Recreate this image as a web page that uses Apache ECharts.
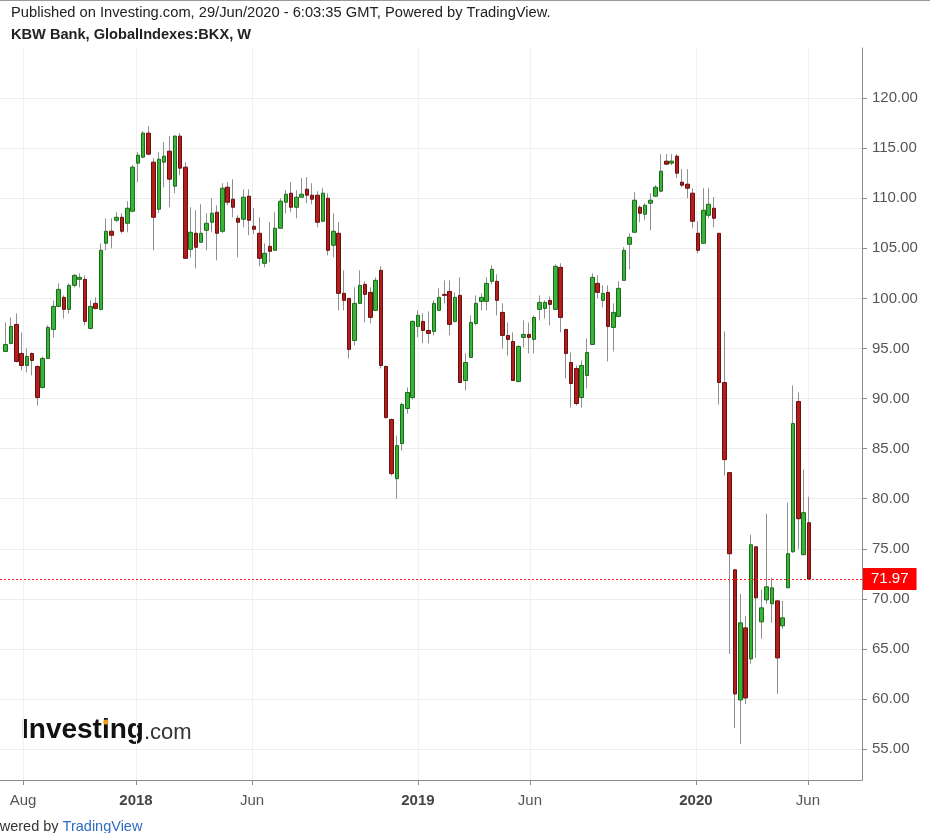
<!DOCTYPE html>
<html>
<head>
<meta charset="UTF-8">
<title>KBW Bank, GlobalIndexes:BKX, W</title>
<script src="https://cdn.jsdelivr.net/npm/echarts@6.0.0/dist/echarts.min.js"></script>
<style>
    html, body { margin: 0; padding: 0; background: #fff; }
    #main { width: 930px; height: 833px; }
</style>
</head>
<body>
<div id="main"></div>
<script type="text/javascript">
// weekly candles [open, close, low, high], Jul 2017 .. Jun 2020
var candles = [
    [94.7, 95.4, 94.7, 97.6], [95.5, 97.2, 95.4, 98.1], [97.4, 93.7, 93.6, 98.5], [94.5, 93.3, 92.8, 96.6],
    [93.3, 94.2, 92.6, 95.0], [94.5, 93.8, 92.3, 94.6], [93.2, 90.1, 89.3, 93.3], [91.1, 94.0, 91.0, 94.2],
    [94.0, 97.1, 94.0, 97.3], [96.9, 99.2, 96.1, 99.8], [99.2, 100.9, 99.1, 101.5], [100.1, 98.9, 98.0, 100.3],
    [98.9, 101.3, 98.5, 101.5], [101.3, 102.3, 101.1, 102.4], [101.9, 102.1, 101.1, 102.5], [101.9, 97.7, 97.3, 102.3],
    [97.0, 99.2, 96.9, 99.8], [99.5, 99.0, 98.9, 100.1], [98.9, 104.8, 98.8, 105.5], [105.5, 106.7, 104.8, 108.0],
    [106.7, 106.3, 105.0, 108.0], [107.8, 108.1, 107.6, 108.6], [108.1, 106.7, 106.5, 108.5], [107.5, 109.0, 106.6, 109.7],
    [108.7, 113.1, 108.6, 113.3], [113.5, 114.3, 111.6, 114.6], [114.1, 116.5, 114.0, 116.7], [116.5, 114.4, 114.3, 117.2],
    [113.6, 108.1, 104.8, 114.0], [108.9, 113.9, 108.5, 114.6], [113.6, 114.2, 111.1, 115.6], [114.7, 111.9, 109.1, 116.2],
    [111.2, 116.2, 110.5, 116.3], [116.2, 113.0, 112.3, 116.5], [113.1, 104.0, 104.0, 113.6], [104.9, 106.6, 104.1, 109.1],
    [106.5, 105.1, 103.0, 108.8], [105.6, 106.5, 105.6, 109.4], [106.8, 107.5, 104.8, 108.5], [107.6, 108.5, 106.6, 110.0],
    [108.6, 106.5, 103.8, 109.3], [106.7, 111.0, 106.5, 111.5], [111.1, 109.6, 109.3, 111.6], [109.9, 109.1, 108.1, 111.9],
    [108.0, 107.6, 104.1, 108.3], [107.9, 110.1, 107.1, 110.9], [110.2, 107.8, 106.3, 110.9], [107.2, 106.9, 106.4, 109.0],
    [106.5, 104.0, 103.2, 108.1], [103.5, 104.5, 103.1, 105.5], [105.2, 104.7, 103.6, 107.6], [104.8, 107.0, 104.8, 108.6],
    [107.0, 109.7, 107.0, 110.0], [109.6, 110.4, 108.5, 110.8], [110.5, 109.1, 108.6, 111.6], [109.1, 110.1, 108.0, 110.8],
    [110.1, 110.4, 110.1, 112.0], [110.9, 110.3, 109.5, 112.1], [110.3, 109.9, 109.4, 111.5], [110.3, 107.6, 107.1, 110.7],
    [107.7, 110.5, 107.6, 111.0], [110.0, 104.8, 104.3, 110.5], [105.3, 106.7, 104.1, 108.5], [106.5, 100.5, 98.8, 107.6],
    [100.5, 99.8, 98.8, 102.8], [100.0, 94.9, 94.0, 100.0], [95.8, 99.5, 95.3, 101.1], [99.5, 101.3, 99.5, 102.8],
    [101.4, 100.4, 97.6, 101.7], [100.6, 98.1, 97.5, 101.1], [98.8, 101.8, 98.8, 102.1], [102.8, 93.3, 93.0, 103.2],
    [93.2, 88.1, 88.0, 93.3], [87.9, 82.5, 82.3, 88.0], [82.0, 85.3, 80.0, 86.3], [85.5, 89.4, 84.8, 89.6],
    [89.0, 90.6, 88.5, 91.1], [90.1, 97.7, 89.9, 97.8], [97.2, 98.3, 96.1, 98.8], [97.7, 96.8, 95.5, 98.5],
    [96.8, 96.5, 95.5, 98.7], [96.7, 99.5, 96.3, 99.8], [98.8, 100.1, 98.8, 101.0], [100.4, 100.3, 99.5, 101.8],
    [100.7, 97.4, 96.3, 101.8], [97.7, 100.1, 97.6, 100.6], [100.3, 91.6, 91.6, 102.1], [91.8, 93.6, 90.8, 94.5],
    [94.1, 97.6, 94.1, 98.3], [97.5, 99.5, 97.3, 100.3], [99.7, 100.1, 98.8, 100.5], [99.7, 101.5, 98.8, 102.1],
    [101.7, 102.9, 101.4, 103.3], [101.7, 99.8, 98.3, 102.4], [98.6, 96.3, 95.0, 99.5], [96.3, 95.9, 94.3, 97.6],
    [95.7, 91.8, 91.8, 96.6], [91.7, 95.2, 91.6, 95.3], [96.1, 96.4, 95.1, 97.8], [96.4, 96.1, 94.5, 97.6],
    [95.9, 98.1, 94.5, 98.3], [98.9, 99.6, 97.8, 100.3], [99.0, 99.6, 98.0, 99.8], [99.8, 99.4, 97.3, 100.2],
    [98.9, 103.2, 98.9, 103.4], [103.1, 98.1, 96.6, 103.5], [96.9, 94.5, 92.0, 96.9], [93.6, 91.5, 89.1, 94.6],
    [93.0, 89.5, 89.3, 93.3], [90.1, 93.3, 89.1, 93.8], [92.3, 94.6, 91.0, 96.0], [95.4, 102.1, 95.4, 102.5],
    [101.5, 100.6, 100.0, 102.3], [99.8, 100.5, 99.1, 101.3], [100.6, 97.2, 93.7, 101.3], [97.1, 98.6, 94.7, 99.5],
    [98.2, 101.0, 98.2, 101.7], [101.8, 104.8, 101.8, 105.1], [105.4, 106.1, 102.9, 106.5], [106.6, 109.8, 106.6, 110.6],
    [109.1, 108.5, 107.6, 109.3], [108.4, 109.3, 107.8, 109.5], [109.5, 109.8, 106.8, 110.5], [110.2, 111.1, 110.2, 111.3],
    [110.7, 112.7, 110.6, 114.4], [113.7, 113.4, 113.3, 114.4], [113.5, 113.7, 113.3, 114.4], [114.2, 112.5, 112.0, 114.4],
    [111.6, 111.3, 111.1, 112.9], [111.4, 111.0, 110.0, 112.9], [110.5, 107.7, 107.0, 111.0], [106.5, 104.8, 104.5, 107.7],
    [105.5, 108.8, 105.5, 111.0], [108.3, 109.4, 108.0, 111.0], [109.0, 108.0, 107.1, 110.1], [106.5, 91.6, 89.4, 106.5],
    [91.6, 83.9, 82.3, 96.7], [82.6, 74.5, 64.5, 82.6], [72.9, 60.5, 57.1, 72.9], [59.9, 67.6, 55.5, 70.5],
    [67.1, 60.1, 59.5, 68.3], [64.0, 75.4, 63.5, 76.4], [75.2, 70.1, 64.1, 75.2], [67.7, 69.1, 66.0, 70.9],
    [69.9, 71.2, 69.5, 78.5], [69.5, 71.1, 67.6, 72.1], [69.8, 64.1, 60.5, 69.8], [67.3, 68.1, 67.0, 69.8],
    [71.1, 74.5, 71.1, 79.6], [74.7, 87.5, 74.6, 91.3], [89.7, 78.0, 75.0, 90.6], [74.4, 78.6, 74.4, 82.9],
    [77.6, 71.97, 71.97, 80.2]
];

// time axis ticks, in week index units
var tickPos = [3.27, 24.65, 46.6, 78.0, 99.2, 130.6, 151.8];
var tickText = ['Aug', '2018', 'Jun', '2019', 'Jun', '2020', 'Jun'];
var priceTicks = [55, 60, 65, 70, 75, 80, 85, 90, 95, 100, 105, 110, 115, 120];

var lastIdx = candles.length - 1;
var lastPrice = candles[lastIdx][1];

var wickData = candles.map(function (c, i) { return [i, c[0], c[1], c[2], c[3]]; });
var bodyData = candles.map(function (c, i) {
    return [i, c[0], c[1], Math.min(c[0], c[1]), Math.max(c[0], c[1])];
});

var myChart = echarts.init(document.getElementById('main'), null, { renderer: 'canvas' });

var font = 'Arial, "Liberation Sans", sans-serif';

myChart.setOption({
    animation: false,
    backgroundColor: '#fff',
    textStyle: { fontFamily: font },
    grid: { left: 0, right: 68, top: 48, bottom: 53 },
    xAxis: {
        type: 'value',
        min: -1.0786,
        max: 162.03,
        axisLine: { show: true, onZero: false, lineStyle: { color: '#8c8c8c', width: 1 } },
        axisTick: { show: true, length: 5, customValues: tickPos, lineStyle: { color: '#8c8c8c' } },
        splitLine: { show: true, lineStyle: { color: '#f0f0f0' } },
        axisLabel: {
            customValues: tickPos,
            margin: 13,
            fontSize: 15,
            color: '#555',
            formatter: function (v) {
                var best = 0;
                for (var k = 1; k < tickPos.length; k++) {
                    if (Math.abs(tickPos[k] - v) < Math.abs(tickPos[best] - v)) best = k;
                }
                var t = tickText[best];
                return /^\d{4}$/.test(t) ? '{y|' + t + '}' : t;
            },
            rich: { y: { fontWeight: 'bold', fontSize: 15, color: '#444', fontFamily: font } }
        }
    },
    yAxis: {
        type: 'value',
        position: 'right',
        min: 51.91,
        max: 125,
        axisLine: { show: true, onZero: false, lineStyle: { color: '#8c8c8c', width: 1 } },
        axisTick: { show: true, length: 5, customValues: priceTicks, lineStyle: { color: '#8c8c8c' } },
        splitLine: { show: true, lineStyle: { color: '#ececec' } },
        axisLabel: {
            customValues: priceTicks,
            margin: 10,
            fontSize: 15,
            color: '#555',
            formatter: function (v) { return v.toFixed(2); }
        }
    },
    series: [{
        name: 'wick',
        type: 'candlestick',
        data: wickData,
        barWidth: 1,
        itemStyle: { color: '#909090', color0: '#909090', borderColor: '#909090', borderColor0: '#909090', borderWidth: 1 }
    }, {
        name: 'BKX',
        type: 'candlestick',
        data: bodyData,
        barWidth: 4,
        itemStyle: {
            color: '#38b538', color0: '#b51d1d',
            borderColor: '#1d6a1d', borderColor0: '#661010', borderWidth: 1
        }
    }, {
        name: 'last',
        type: 'line',
        data: [[lastIdx, lastPrice]],
        showSymbol: false,
        symbol: 'none',
        color: '#ff0000',
        lineStyle: { width: 0, color: '#ff0000' },
        markLine: {
            silent: true,
            symbol: 'none',
            animation: false,
            lineStyle: { color: '#ff1a1a', type: [2, 2], width: 1, opacity: 1 },
            label: {
                show: true,
                position: 'end',
                distance: 1,
                formatter: lastPrice.toFixed(2),
                backgroundColor: '#ff0000',
                color: '#fff',
                fontSize: 15,
                padding: [4, 8, 3, 8],
                fontFamily: font
            },
            data: [{ yAxis: lastPrice }]
        }
    }],
    graphic: [
        { type: 'line', shape: { x1: 0, y1: 0.5, x2: 930, y2: 0.5 }, style: { stroke: '#9a9a9a', lineWidth: 1 } },
        { type: 'text', left: 11, top: 5, style: { text: 'Published on Investing.com, 29/Jun/2020 - 6:03:35 GMT, Powered by TradingView.', font: '14.7px ' + font, fill: '#222' } },
        { type: 'text', left: 11, top: 27, style: { text: 'KBW Bank, GlobalIndexes:BKX, W', font: 'bold 14.6px ' + font, fill: '#222' } },
        { type: 'text', x: 21, y: 730.5, style: { text: 'Investing', font: 'bold 28px ' + font, fill: '#111', verticalAlign: 'middle' } },
        { type: 'circle', shape: { cx: 105.8, cy: 722, r: 2.6 }, style: { fill: '#f5a01a' } },
        { type: 'text', x: 144, y: 732.5, style: { text: '.com', font: '22px ' + font, fill: '#333', verticalAlign: 'middle' } },
        { type: 'text', x: -18, y: 827, style: {
            text: '{g|Powered by }{b|TradingView}', verticalAlign: 'middle',
            rich: { g: { font: '14.5px ' + font, fill: '#333' }, b: { font: '14.5px ' + font, fill: '#2f6bc0' } }
        } }
    ]
});
</script>
</body>
</html>
